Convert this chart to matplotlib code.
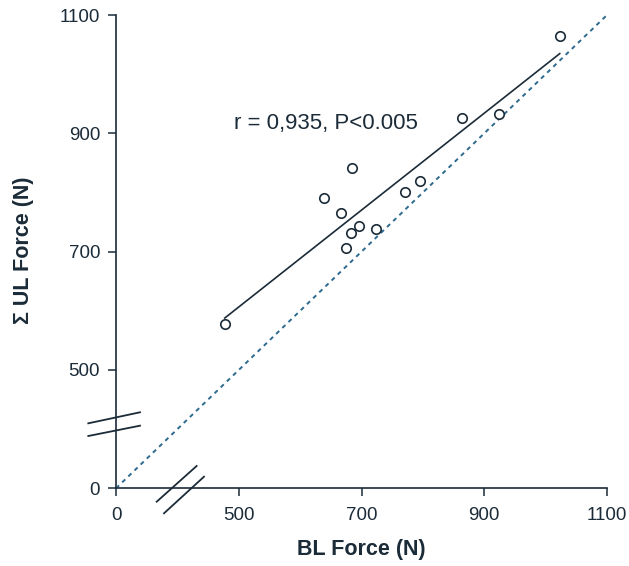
import numpy as np
import matplotlib.pyplot as plt

plt.rcParams['font.family'] = ['Liberation Sans', 'DejaVu Sans']

# Data (N)
bl_force = [477, 639, 684, 666, 682, 675, 696, 723, 770, 796, 864, 924, 1023]
ul_force = [577, 791, 841, 766, 732, 706, 744, 738, 800, 820, 926, 933, 1064]
ticks = [0, 500, 700, 900, 1100]
identity = [0, 1100]
stat_text = "r = 0,935, P<0.005"

ink = '#1b2b38'
dash_col = '#2d6a90'

# broken axis: everything below B is squeezed by C
B, C = 450, 0.334

def fwd(v):
    v = np.asarray(v, dtype=float)
    return np.where(v < B, v * C, B * C + v - B)

def inv(u):
    u = np.asarray(u, dtype=float)
    return np.where(u < B * C, u / C, u - B * C + B)

fig = plt.figure(figsize=(6.29, 5.66), dpi=100)
ax = fig.add_axes([116 / 629, 1 - 488.3 / 566, 491 / 629, 473.3 / 566])
ax.set_xscale('function', functions=(fwd, inv))
ax.set_yscale('function', functions=(fwd, inv))

# line of identity
ax.plot(identity, identity, ls=(0, (2.2, 2.2)), color=dash_col, lw=1.4, zorder=2)

# regression line
slope, icpt = np.polyfit(bl_force, ul_force, 1)
xs = np.array([min(bl_force), max(bl_force)])
ax.plot(xs, slope * xs + icpt, color=ink, lw=1.2, zorder=3)

ax.plot(bl_force, ul_force, 'o', ms=6.8, mfc='white', mec=ink, mew=1.2,
        zorder=4, clip_on=False)

ax.text(492, 917, stat_text, fontsize=16, color=ink, va='center', ha='left')

ax.set_xlim(0, 1100)
ax.set_ylim(0, 1100)
ax.set_xticks(ticks)
ax.set_yticks(ticks)
ax.minorticks_off()
for s in ['top', 'right']:
    ax.spines[s].set_visible(False)
for s in ['left', 'bottom']:
    ax.spines[s].set_color(ink)
    ax.spines[s].set_linewidth(1.2)
ax.tick_params(direction='out', length=5.5, width=1.1, color=ink,
               labelsize=13.5, labelcolor=ink, pad=6)
ax.tick_params(axis='x', pad=8)

ax.set_xlabel('BL Force (N)', fontsize=15.5, fontweight='bold', color=ink)
ax.set_ylabel('\u03a3 UL Force (N)', fontsize=15.5, fontweight='bold', color=ink)
ax.xaxis.set_label_coords(0.5, -0.108)
ax.yaxis.set_label_coords(-0.168, 0.502)

# axis break marks
brk = dict(color=ink, lw=1.3, clip_on=False, transform=ax.transAxes, zorder=5)
ax.plot([0.0829, 0.1642], [-0.0283, 0.0471], **brk)
ax.plot([0.0978, 0.1792], [-0.0528, 0.0245], **brk)
ax.plot([-0.0564, 0.0489], [0.1373, 0.1606], **brk)
ax.plot([-0.0564, 0.0489], [0.1105, 0.1323], **brk)

fig.savefig('out.png', dpi=100)
